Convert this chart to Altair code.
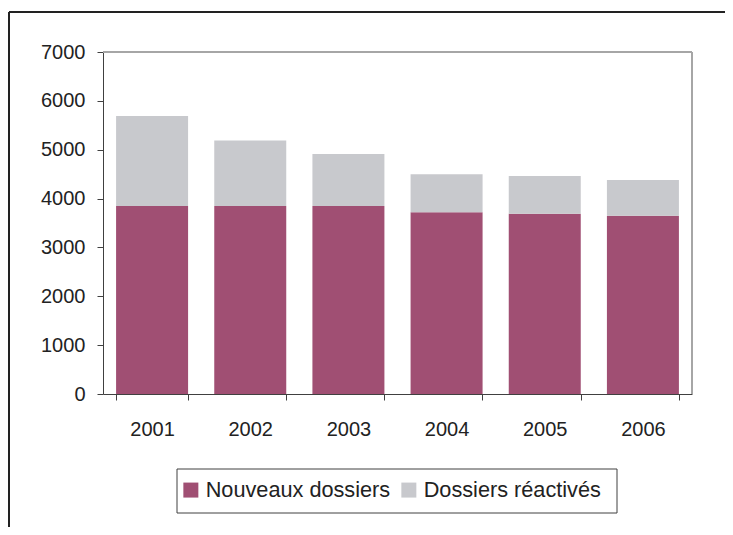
import altair as alt
import pandas as pd

years = ["2001", "2002", "2003", "2004", "2005", "2006"]
nouveaux = [3850, 3850, 3850, 3720, 3690, 3650]
reactives = [1840, 1340, 1060, 780, 770, 730]
series = ["Nouveaux dossiers", "Dossiers réactivés"]
colors = ["#A04F73", "#C8C9CD"]
y_ticks = [0, 1000, 2000, 3000, 4000, 5000, 6000, 7000]

rows = []
for i, y in enumerate(years):
    rows.append({"year": y, "serie": series[0], "value": nouveaux[i], "ord": 0})
    rows.append({"year": y, "serie": series[1], "value": reactives[i], "ord": 1})
df = pd.DataFrame(rows)

FONT = "Liberation Sans"
W, H = 589, 342

bars = alt.Chart(df).mark_bar(size=72).encode(
    x=alt.X("year:N", title=None, sort=years,
            scale=alt.Scale(paddingInner=0.27, paddingOuter=0.135),
            axis=alt.Axis(labelAngle=0, tickBand="extent", tickSize=6,
                          labelPadding=19, labelFontSize=20, labelFont=FONT,
                          labelColor="#222222", domainColor="#404040",
                          tickColor="#404040", grid=False)),
    y=alt.Y("value:Q", title=None, stack="zero",
            scale=alt.Scale(domain=[0, 7000], nice=False),
            axis=alt.Axis(values=y_ticks, format="d", tickSize=6, labelPadding=12,
                          labelFontSize=20, labelFont=FONT, labelColor="#222222",
                          domainColor="#404040", tickColor="#404040", grid=False)),
    color=alt.Color("serie:N", sort=series,
                    scale=alt.Scale(domain=series, range=colors),
                    legend=alt.Legend(title=None, orient="none", legendX=69, legendY=419,
                                      direction="horizontal", columns=2,
                                      symbolType="square", symbolSize=225,
                                      symbolStrokeWidth=0, labelFontSize=21.7,
                                      labelFont=FONT, labelColor="#222222",
                                      labelLimit=0,
                                      labelOffset=4, columnPadding=7,
                                      padding=8)),
    order=alt.Order("ord:Q", sort="ascending"),
)

frame_data = alt.Data(values=[{"a": 1}])
legend_box = alt.Chart(frame_data).mark_rect(fill="white", stroke="#404040", strokeWidth=1).encode(
    x=alt.value(74), x2=alt.value(514), y=alt.value(417), y2=alt.value(461))
plot_top = alt.Chart(frame_data).mark_rule(color="#A6A6A6", strokeWidth=2).encode(
    x=alt.value(0), x2=alt.value(W), y=alt.value(0))
plot_right = alt.Chart(frame_data).mark_rule(color="#A6A6A6", strokeWidth=2).encode(
    x=alt.value(W), y=alt.value(0), y2=alt.value(H))
top_line = alt.Chart(frame_data).mark_rule(color="#222222", strokeWidth=2).encode(
    x=alt.value(-94), x2=alt.value(622), y=alt.value(-40))
left_line = alt.Chart(frame_data).mark_rule(color="#222222", strokeWidth=2).encode(
    x=alt.value(-94), y=alt.value(-40), y2=alt.value(475))

chart = alt.layer(legend_box, plot_top, plot_right, bars, top_line, left_line).properties(
    width=W, height=H,
    autosize=alt.AutoSizeParams(type="none"),
    padding={"left": 95, "top": 44, "right": 33, "bottom": 133},
).configure_view(stroke=None)

chart.save("out.html", embed_options={"renderer": "svg", "actions": False})
